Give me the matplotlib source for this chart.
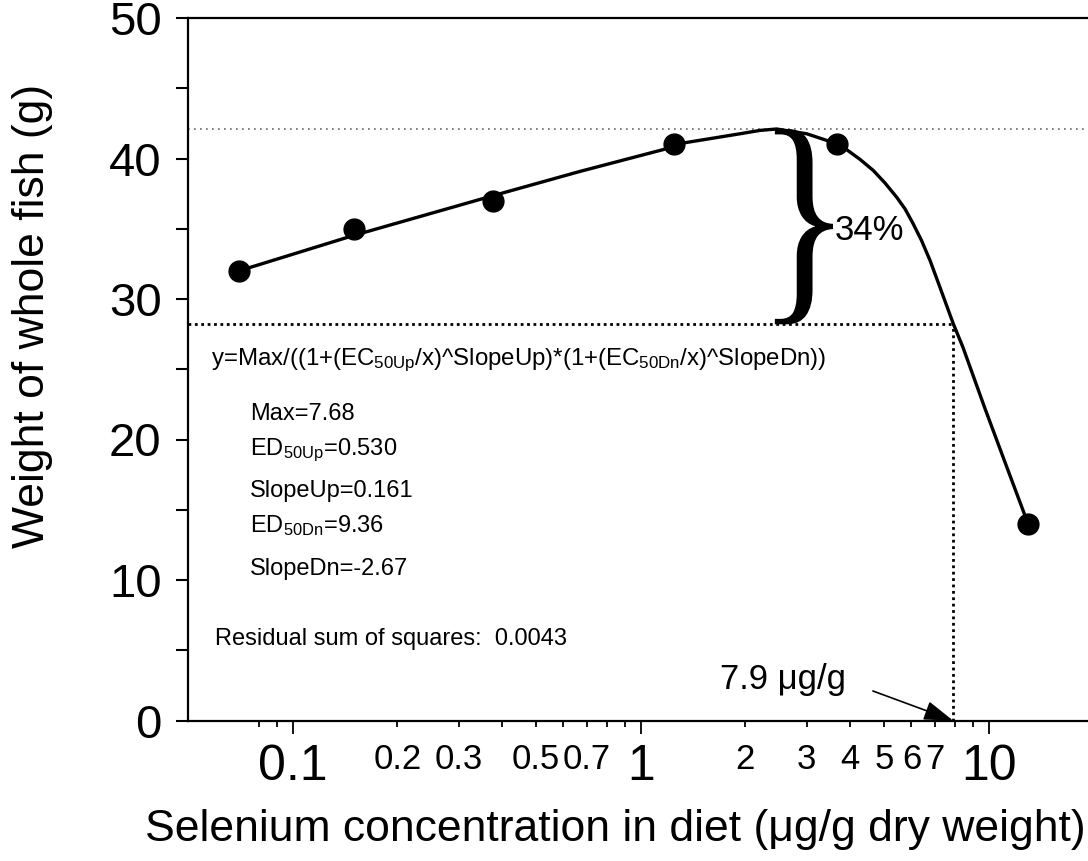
import numpy as np
import matplotlib
matplotlib.use("Agg")
import matplotlib.pyplot as plt
from matplotlib.ticker import FixedLocator, FixedFormatter, NullFormatter
from matplotlib.textpath import TextPath
from matplotlib.patches import PathPatch
from matplotlib.font_manager import FontProperties
from matplotlib.transforms import Affine2D

plt.rcParams['font.family'] = ['Liberation Sans', 'DejaVu Sans']
plt.rcParams['mathtext.fontset'] = 'custom'
plt.rcParams['mathtext.rm'] = 'Liberation Sans'
plt.rcParams['mathtext.it'] = 'Liberation Sans:italic'
plt.rcParams['mathtext.default'] = 'regular'

# ---- data ----
se_conc = [0.07, 0.15, 0.377, 1.25, 3.66, 13.0]
fish_weight = [32.0, 35.0, 37.0, 41.0, 41.0, 14.0]

curve_x = [0.0698, 0.149, 0.376, 0.669, 1.159, 1.323, 1.929, 2.202, 2.459,
           3.000, 3.424, 3.908, 4.268, 4.660, 5.035, 5.439, 5.748, 6.061,
           6.412, 6.784, 7.246, 7.911, 8.437, 9.759, 11.14, 12.99]
curve_y = [31.99, 34.51, 37.35, 39.08, 40.63, 41.10, 41.76, 42.0, 42.1,
           41.76, 41.29, 40.63, 39.94, 39.15, 38.26, 37.25, 36.42, 35.38,
           34.17, 32.75, 30.83, 28.25, 26.56, 22.21, 18.39, 13.98]

max_weight = 42.1
reduced_weight = 28.2
ec_conc = 7.9

major_x = [0.1, 1, 10]
major_x_labels = ['0.1', '1', '10']
minor_x = [0.08, 0.09, 0.2, 0.3, 0.4, 0.5, 0.6, 0.7, 0.8, 0.9,
           2, 3, 4, 5, 6, 7, 8, 9]
minor_x_labels = ['', '', '0.2', '0.3', '', '0.5', '', '0.7', '', '',
                  '2', '3', '4', '5', '6', '7', '', '']
y_major = [0, 10, 20, 30, 40, 50]
y_minor = [5, 15, 25, 35, 45]

W, H = 1088, 861
fig = plt.figure(figsize=(W / 100, H / 100), dpi=100)
ax = fig.add_axes([188 / W, 1 - 720.5 / H, (W - 188) / W, (720.5 - 18) / H])
ax.set_xscale('log')
ax.set_xlim(0.05, 19.3)
ax.set_ylim(0, 50)

for s in ['left', 'bottom', 'top']:
    ax.spines[s].set_linewidth(1.6)
ax.spines['right'].set_visible(False)

ax.xaxis.set_major_locator(FixedLocator(major_x))
ax.xaxis.set_major_formatter(FixedFormatter(major_x_labels))
ax.xaxis.set_minor_locator(FixedLocator(minor_x))
ax.xaxis.set_minor_formatter(FixedFormatter(minor_x_labels))
ax.tick_params(axis='x', which='major', length=9, width=1.3, labelsize=36, pad=8, direction='out')
ax.tick_params(axis='x', which='minor', length=4.5, width=1.3, labelsize=25, pad=11.5, direction='out')
ax.yaxis.set_major_locator(FixedLocator(y_major))
ax.yaxis.set_minor_locator(FixedLocator(y_minor))
ax.yaxis.set_minor_formatter(NullFormatter())
ax.tick_params(axis='y', which='both', length=9, width=1.5, direction='out')
ax.tick_params(axis='y', which='major', labelsize=34, pad=10)
ax.tick_params(axis='x', which='both', top=False)

# reference lines
ax.axhline(max_weight, color='#666666', lw=1.2, ls=(0, (1, 2.6)))
ax.plot([0.05, ec_conc], [reduced_weight, reduced_weight], color='black', lw=2.0, ls=(0, (1, 1.3)))
ax.plot([ec_conc, ec_conc], [0, reduced_weight], color='black', lw=2.0, ls=(0, (1, 1.3)))

# fitted curve and data
ax.plot(curve_x, curve_y, color='black', lw=2.4, solid_capstyle='round',
        solid_joinstyle='round', zorder=3)
ax.plot(se_conc, fish_weight, 'o', color='black', ms=15, zorder=4)

# brace
tp = TextPath((0, 0), "}", size=1, prop=FontProperties(family='Liberation Serif'))
ext = tp.get_extents()
to_axes = ax.transData + ax.transAxes.inverted()
x0a, y0a = to_axes.transform((2.43, reduced_weight))
x1a, y1a = to_axes.transform((3.57, max_weight))
tr = (Affine2D().translate(-ext.x0, -ext.y0)
      .scale((x1a - x0a) / ext.width, (y1a - y0a) / ext.height)
      .translate(x0a, y0a) + ax.transAxes)
ax.add_patch(PathPatch(tp, transform=tr, facecolor='black', edgecolor='none', zorder=5))
ax.text(3.62, 34.9, '34%', fontsize=25, ha='left', va='center')

# arrow annotation
ax.annotate('', xy=(ec_conc, 0), xytext=(4.65, 2.1),
            arrowprops=dict(arrowstyle='-|>,head_length=0.9,head_width=0.3',
                            mutation_scale=20, color='black', lw=1.2,
                            shrinkA=0, shrinkB=0))
ax.text(1.69, 2.24, '7.9 μg/g', fontsize=25, ha='left', va='baseline')

def fx(px):
    return px / W

def fy(py):
    return 1 - py / H

fig.text(fx(211), fy(365),
         r"y=Max/((1+(EC$_{50Up}$/x)^SlopeUp)*(1+(EC$_{50Dn}$/x)^SlopeDn))",
         fontsize=17.3, ha='left', va='baseline')
params = [(r"Max=7.68", 420), (r"ED$_{50Up}$=0.530", 455), (r"SlopeUp=0.161", 497),
          (r"ED$_{50Dn}$=9.36", 532), (r"SlopeDn=-2.67", 575)]
for s, py in params:
    fig.text(fx(250), fy(py), s, fontsize=17, ha='left', va='baseline')
fig.text(fx(215), fy(645), "Residual sum of squares:  0.0043", fontsize=17,
         ha='left', va='baseline')

fig.text(fx(615), fy(829), "Selenium concentration in diet (μg/g dry weight)",
         fontsize=32, ha='center', va='center')
fig.text(fx(33), fy(316), "Weight of whole fish (g)", fontsize=32,
         ha='center', va='center', rotation=90)

fig.savefig('out.png', dpi=100)
